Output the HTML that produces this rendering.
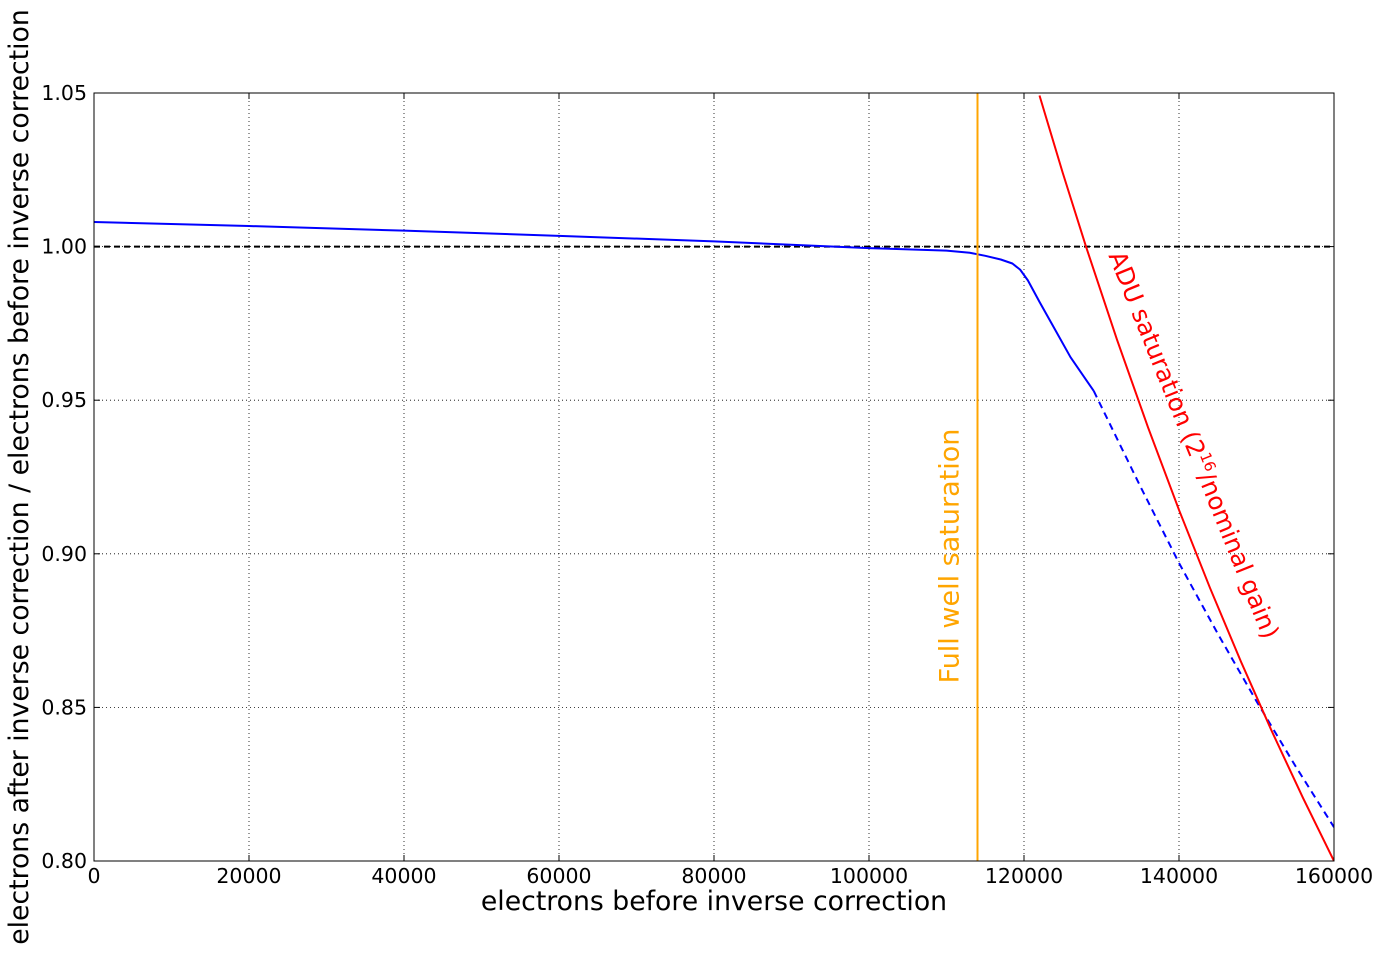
<!DOCTYPE html>
<html><head><meta charset="utf-8"><style>
body{margin:0;background:#fff}
svg text{font-family:"DejaVu Sans","Liberation Sans",sans-serif}
</style></head><body>
<svg id="c" width="1384" height="954" xmlns="http://www.w3.org/2000/svg"></svg>
<script>
const xTicks=[0,20000,40000,60000,80000,100000,120000,140000,160000];
const yTicks=[0.80,0.85,0.90,0.95,1.00,1.05];
const blueX=[0,20000,40000,60000,80000,100000,110000,113000,115000,117000,118500,119500,120500,122000,124000,126000,129000];
const blueY=[1.008,1.0067,1.0052,1.0035,1.0017,0.9995,0.9987,0.998,0.997,0.9958,0.9945,0.9925,0.989,0.982,0.973,0.964,0.953];
const dashX=[129000,135000,140000,145000,150000,155000,160000];
const dashY=[0.953,0.922,0.897,0.874,0.852,0.831,0.811];
const redX=[122000,125000,128000,132000,136000,140000,144000,148000,152000,156000,160000];
const redY=redX.map(x=>128000/x);
const fullWell=114000;
const svg=document.getElementById('c');const NS='http://www.w3.org/2000/svg';
const L=94,R=1334,T=93,B=861;
const sx=v=>L+(v-0)/160000*(R-L), sy=v=>B-(v-0.80)/0.25*(B-T);
function el(t,a,p){const e=document.createElementNS(NS,t);for(const k in a)e.setAttribute(k,a[k]);(p||svg).appendChild(e);return e;}
const clip=el('clipPath',{id:'cp'});el('rect',{x:L,y:T,width:R-L,height:B-T},clip);
xTicks.forEach(v=>{const g=el('line',{x1:sx(v),x2:sx(v),y1:T,y2:B,stroke:'#000','stroke-width':0.8,'stroke-dasharray':'1,3'});

el('line',{x1:sx(v),x2:sx(v),y1:B,y2:B-6,stroke:'#000'});el('line',{x1:sx(v),x2:sx(v),y1:T,y2:T+6,stroke:'#000'});
const t=el('text',{x:sx(v),y:B+22,'font-size':20.5,'text-anchor':'middle'});t.textContent=v;
});
yTicks.forEach(v=>{const g=el('line',{x1:L,x2:R,y1:sy(v),y2:sy(v),stroke:'#000','stroke-width':0.8,'stroke-dasharray':'1,3'});

el('line',{x1:L,x2:L+6,y1:sy(v),y2:sy(v),stroke:'#000'});el('line',{x1:R,x2:R-6,y1:sy(v),y2:sy(v),stroke:'#000'});
const t=el('text',{x:L-7,y:sy(v)+7,'font-size':20.5,'text-anchor':'end'});t.textContent=v.toFixed(2);
});
function line(xs,ys,attrs,name){const d=xs.map((x,i)=>(i?'L':'M')+sx(x)+','+sy(ys[i])).join('');
const p=el('path',Object.assign({d:d,fill:'none','clip-path':'url(#cp)','stroke-linejoin':'round'},attrs));}
line([0,160000],[1,1],{stroke:'#000','stroke-width':2,'stroke-dasharray':'6,4'},'unity-reference-line');
line(blueX,blueY,{stroke:'#0000ff','stroke-width':2},'correction-curve');
line(dashX,dashY,{stroke:'#0000ff','stroke-width':2,'stroke-dasharray':'7,5'},'correction-extrapolation');
line(redX,redY,{stroke:'#ff0000','stroke-width':2},'adu-saturation-curve');
line([fullWell,fullWell],[0.80,1.05],{stroke:'#ffa500','stroke-width':2},'full-well-line');
const b=el('rect',{x:L,y:T,width:R-L,height:B-T,fill:'none',stroke:'#000','stroke-width':1});
let t=el('text',{x:0,y:0,'font-size':27,fill:'#ffa500','text-anchor':'middle',transform:`translate(${sx(fullWell)-19},556) rotate(-90)`});t.textContent='Full well saturation';
t=el('text',{x:0,y:0,'font-size':24.5,fill:'#ff0000','text-anchor':'middle',transform:'translate(1186,448) rotate(68)'});
t.innerHTML='ADU saturation (2<tspan font-size="15" dy="-10">16</tspan><tspan dy="10">/nominal gain)</tspan>';

t=el('text',{x:714,y:910,'font-size':26.7,'text-anchor':'middle'});t.textContent='electrons before inverse correction';
t=el('text',{x:0,y:0,'font-size':26.7,'text-anchor':'middle',transform:'translate(28,477) rotate(-90)'});t.textContent='electrons after inverse correction / electrons before inverse correction';
</script></body></html>
